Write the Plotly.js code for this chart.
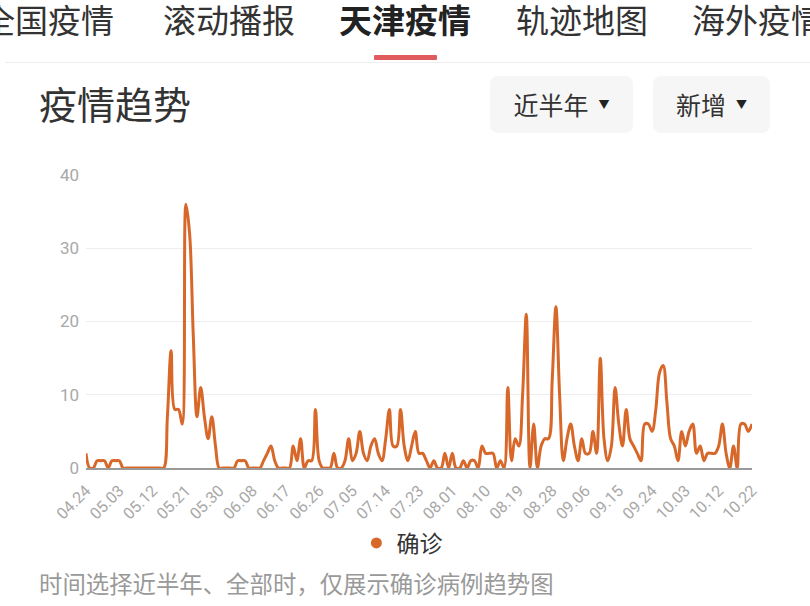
<!DOCTYPE html>
<html>
<head>
<meta charset="utf-8">
<script src="https://cdn.plot.ly/plotly-3.0.1.min.js"></script>
<style>
  html, body { margin:0; padding:0; background:#fff; width:810px; height:606px; overflow:hidden;
    font-family:"Noto Sans CJK SC", "Noto Sans", sans-serif; }
  #chart { position:absolute; left:0; top:0; width:810px; height:606px; }
  .abs { position:absolute; white-space:nowrap; display:flex; align-items:center; line-height:1; }
  .tab { font-size:33px; color:#333; height:38px; top:2px;
         font-family:"Liberation Sans", "Noto Sans CJK SC", sans-serif; }
  .btn { background:#f6f6f6; border-radius:8px; top:76px; height:57px; justify-content:center;
         font-size:25px; color:#333; }
  .tri { font-size:11px; margin-left:10px; color:#222; }
</style>
</head>
<body>
<div id="chart"></div>

<div class="abs tab" style="left:-18px;">全国疫情</div>
<div class="abs tab" style="left:163px;">滚动播报</div>
<div class="abs tab" style="left:339px;font-weight:700;color:#222;">天津疫情</div>
<div class="abs tab" style="left:516px;">轨迹地图</div>
<div class="abs tab" style="left:692px;">海外疫情</div>
<div class="abs" style="left:374px;top:55px;width:63px;height:5px;background:#e05a5e;border-radius:1px;"></div>
<div class="abs" style="left:5px;top:62px;width:805px;height:1px;background:#eeeeee;"></div>

<div class="abs" style="left:39px;top:83px;height:40px;font-size:38px;color:#333;">疫情趋势</div>
<div class="abs btn" style="left:490px;width:143px;">近半年<span class="tri">▼</span></div>
<div class="abs btn" style="left:653px;width:117px;">新增<span class="tri">▼</span></div>

<div class="abs" style="left:39px;top:570px;height:28px;font-size:23.4px;color:#999;">时间选择近半年、全部时，仅展示确诊病例趋势图</div>

<script>
// x-axis tick labels (every 9th data point)
var tickLabels = ['04.24','05.03','05.12','05.21','05.30','06.08','06.17','06.26','07.05','07.14',
                  '07.23','08.01','08.10','08.19','08.28','09.06','09.15','09.24','10.03','10.12','10.22'];

// daily new confirmed cases (确诊), 181 points from 04.24 to 10.22
var confirmed = [
  2,0,0,1,1,1,0,1,1,1,
  0,0,0,0,0,0,0,0,0,0,
  0,0,7,16,8,8,6,36,32,18,
  7,11,7,4,7,3,0,0,0,0,
  0,1,1,1,0,0,0,0,1,2,
  3,1,0,0,0,0,3,1,4,0,
  1,1,8,1,0,0,0,2,0,0,
  1,4,1,2,5,2,1,3,4,2,
  1,4,8,3,3,8,3,1,3,5,
  2,2,1,0,1,0,0,2,0,2,
  0,0,1,0,1,1,0,3,2,2,
  2,0,1,0,11,1,4,3,10,21,
  0,6,0,3,4,4,12,22,10,1,
  4,6,3,1,4,2,2,5,2,15,
  4,1,3,11,6,3,8,4,3,2,
  1,6,6,5,8,13,14,9,4,3,
  1,5,3,5,6,2,3,1,2,2,
  2,3,6,2,0,3,0,6,6,5,
  6
];

var seriesName = '确诊';
var yTicks = [0,10,20,30,40];
var lineColor = '#d8682a';

var xIdx = confirmed.map(function(_, i){ return i; });
var tickVals = tickLabels.map(function(_, k){ return k*9; });

var traces = [
  { x: xIdx, y: confirmed, type:'scatter', mode:'lines',
    line:{ color: lineColor, width: 3, shape:'spline', smoothing: 1 },
    showlegend:false, hoverinfo:'skip' },
  { x:[null], y:[null], type:'scatter', mode:'markers', name: seriesName,
    marker:{ color: lineColor, size: 11 }, showlegend:true }
];

var layout = {
  width: 810, height: 606,
  margin: { l:86, r:58, t:175, b:138, pad:0 },
  paper_bgcolor:'rgba(0,0,0,0)', plot_bgcolor:'rgba(0,0,0,0)',
  font: { family: 'Roboto, "Noto Sans CJK SC", sans-serif' },
  xaxis: {
    range:[0, confirmed.length-1], tickmode:'array', tickvals: tickVals, ticktext: tickLabels,
    tickangle:-45, tickfont:{ size:16, color:'#a8a8a8' }, ticks:'', ticklabelstandoff:5,
    showgrid:false, zeroline:false, showline:true, linecolor:'#9a9a9a', linewidth:2,
    layer:'below traces', fixedrange:true
  },
  yaxis: {
    range:[0,40], tickmode:'array', tickvals: yTicks, tickfont:{ size:17, color:'#a8a8a8' },
    ticks:'', ticklabelstandoff:6, showgrid:true, gridcolor:'#eeeeee', gridwidth:1,
    zeroline:false, showline:false, layer:'below traces', fixedrange:true
  },
  showlegend:true,
  legend: {
    orientation:'h', xref:'container', yref:'container', x:0.44, y:1-543/606,
    xanchor:'left', yanchor:'middle', itemwidth:30,
    font:{ size:23, color:'#333', family:'"Noto Sans CJK SC", sans-serif' },
    bgcolor:'rgba(0,0,0,0)'
  }
};

Plotly.newPlot('chart', traces, layout, { staticPlot:true, displayModeBar:false });
</script>
</body>
</html>
